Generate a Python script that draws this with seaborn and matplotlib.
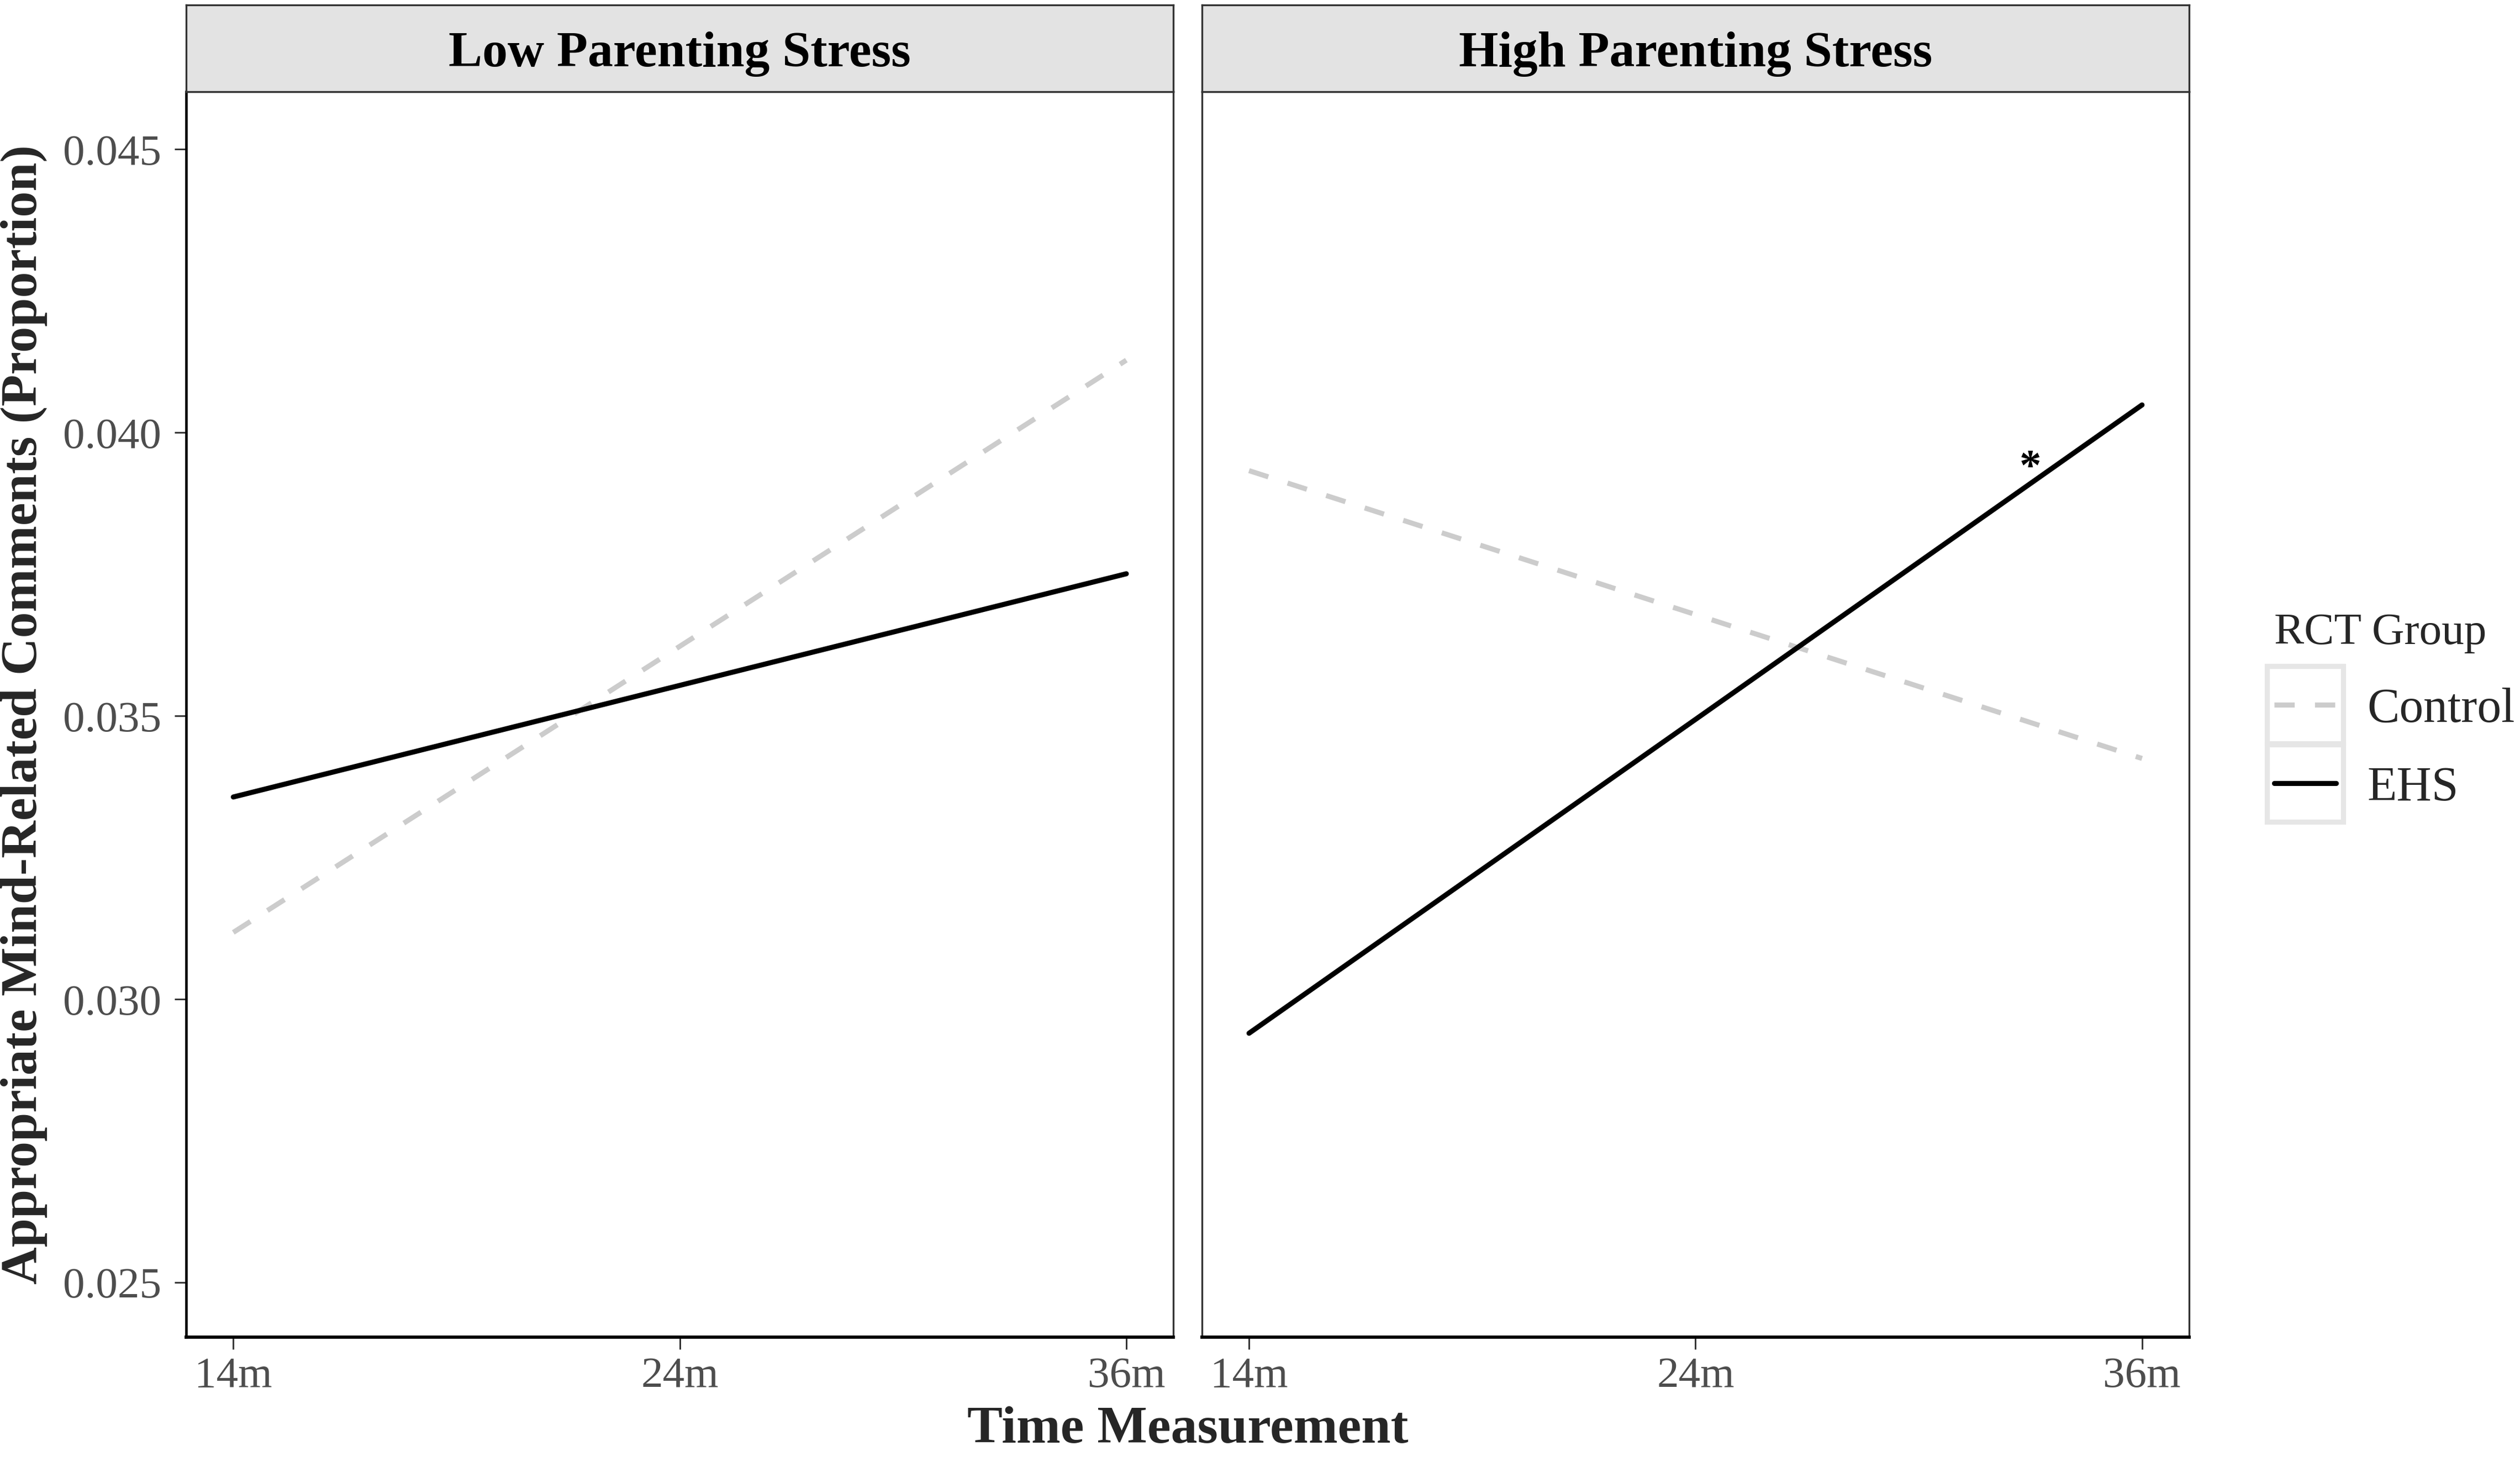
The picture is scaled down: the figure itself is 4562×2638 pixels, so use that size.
import matplotlib.pyplot as plt
import matplotlib.patches as mpatches
from matplotlib.lines import Line2D
import pandas as pd
import seaborn as sns

sns.set_theme(style="white")
plt.rcParams["font.family"] = ["Liberation Serif", "DejaVu Serif"]

# data
times = ["14m", "24m", "36m"]
panels = ["Low Parenting Stress", "High Parenting Stress"]
groups = ["Control", "EHS"]
low_control = [0.03118, 0.03623, 0.04128]
low_ehs = [0.03357, 0.03554, 0.03751]
high_control = [0.03933, 0.03679, 0.03425]
high_ehs = [0.02940, 0.03494, 0.04049]
star_pos = (1.75, 0.03937)  # significance mark, high stress panel

rows = []
for panel, series in zip(panels, [(low_control, low_ehs), (high_control, high_ehs)]):
    for grp, vals in zip(groups, series):
        for t, v in zip(times, vals):
            rows.append({"panel": panel, "group": grp, "time": t, "value": v})
df = pd.DataFrame(rows)

palette = {"Control": "#cccccc", "EHS": "black"}
dashes = {"Control": (4, 4), "EHS": ""}

W, H = 4562, 2638
fig = plt.figure(figsize=(W / 300, H / 300), dpi=300)
s = W / 1568
Hd = H / s


def box(x0, y0, x1, y1):
    return [x0 / 1568, 1 - y1 / Hd, (x1 - x0) / 1568, (y1 - y0) / Hd]


axes = [fig.add_axes(box(116, 57, 730, 832)), fig.add_axes(box(748, 57, 1362, 832))]
strips = [fig.add_axes(box(116, 3, 730, 57)), fig.add_axes(box(748, 3, 1362, 57))]

for i, (ax, st, panel) in enumerate(zip(axes, strips, panels)):
    sub = df[df["panel"] == panel]
    sns.lineplot(data=sub, x="time", y="value", hue="group", style="group",
                 palette=palette, dashes=dashes, linewidth=2.2, legend=False, ax=ax)
    ax.set_xlim(-0.105, 2.105)
    ax.set_ylim(0.02404, 0.04602)
    ax.set_yticks([0.025, 0.030, 0.035, 0.040, 0.045])
    ax.set_xlabel("")
    ax.set_ylabel("")
    for sp in ax.spines.values():
        sp.set_color("#333333")
        sp.set_linewidth(0.8)
    ax.spines["bottom"].set_color("black")
    ax.spines["bottom"].set_linewidth(1.4)
    ax.tick_params(axis="x", bottom=True, length=5.2, width=0.7, color="#333333",
                   labelsize=19, labelcolor="#4d4d4d", pad=3.5)
    if i == 0:
        ax.spines["left"].set_color("black")
        ax.spines["left"].set_linewidth(1.1)
        ax.tick_params(axis="y", left=True, length=5.0, width=0.7, color="#333333",
                       labelsize=19, labelcolor="#4d4d4d", pad=6)
        ax.yaxis.set_major_formatter(plt.FuncFormatter(lambda v, p: f"{v:.3f}"))
    else:
        ax.tick_params(axis="y", left=False, labelleft=False)
    ax.grid(False)

    st.set_facecolor("#e3e3e3")
    st.set_xticks([])
    st.set_yticks([])
    for sp in st.spines.values():
        sp.set_color("#333333")
        sp.set_linewidth(0.8)
    st.text(0.5, 0.43, panel, transform=st.transAxes, ha="center", va="center",
            fontsize=22, fontweight="bold", color="black")

axes[1].text(star_pos[0], star_pos[1], "*", ha="center", va="center",
             fontsize=19, fontweight="bold", color="black")

fig.text(44 / W, 1 - ((57 + 832) / 2) / Hd, "Appropriate Mind-Related Comments (Proportion)",
         rotation=90, ha="center", va="center", fontsize=22.5, fontweight="bold")
fig.text(739 / 1568, 1 - 2612 / H, "Time Measurement", ha="center", va="baseline",
         fontsize=23, fontweight="bold")

handles = [Line2D([], [], color=palette[g], linewidth=2.2, dashes=dashes[g] or (None, None))
           for g in groups]
handles[1].set_linestyle("-")
leg = fig.legend(handles, groups, title="RCT Group", loc="upper left",
                 bbox_to_anchor=(4117 / W, 1 - 1110 / H), frameon=False,
                 fontsize=21, title_fontsize=19.5, alignment="left",
                 borderpad=0, borderaxespad=0, handlelength=1.28,
                 handletextpad=0.64, labelspacing=0.7)

fig.canvas.draw()
for h in leg.legend_handles:
    bb = h.get_window_extent(fig.canvas.get_renderer())
    cx, cy = (bb.x0 + bb.x1) / 2, (bb.y0 + bb.y1) / 2
    bw, bh = 138, 140
    rect = mpatches.Rectangle(((cx - bw / 2) / W, (cy - bh / 2) / H), bw / W, bh / H,
                              transform=fig.transFigure, facecolor="none",
                              edgecolor="#e6e6e6", linewidth=2.2, zorder=0)
    fig.add_artist(rect)

fig.savefig("out.png", dpi=300, facecolor="white")
